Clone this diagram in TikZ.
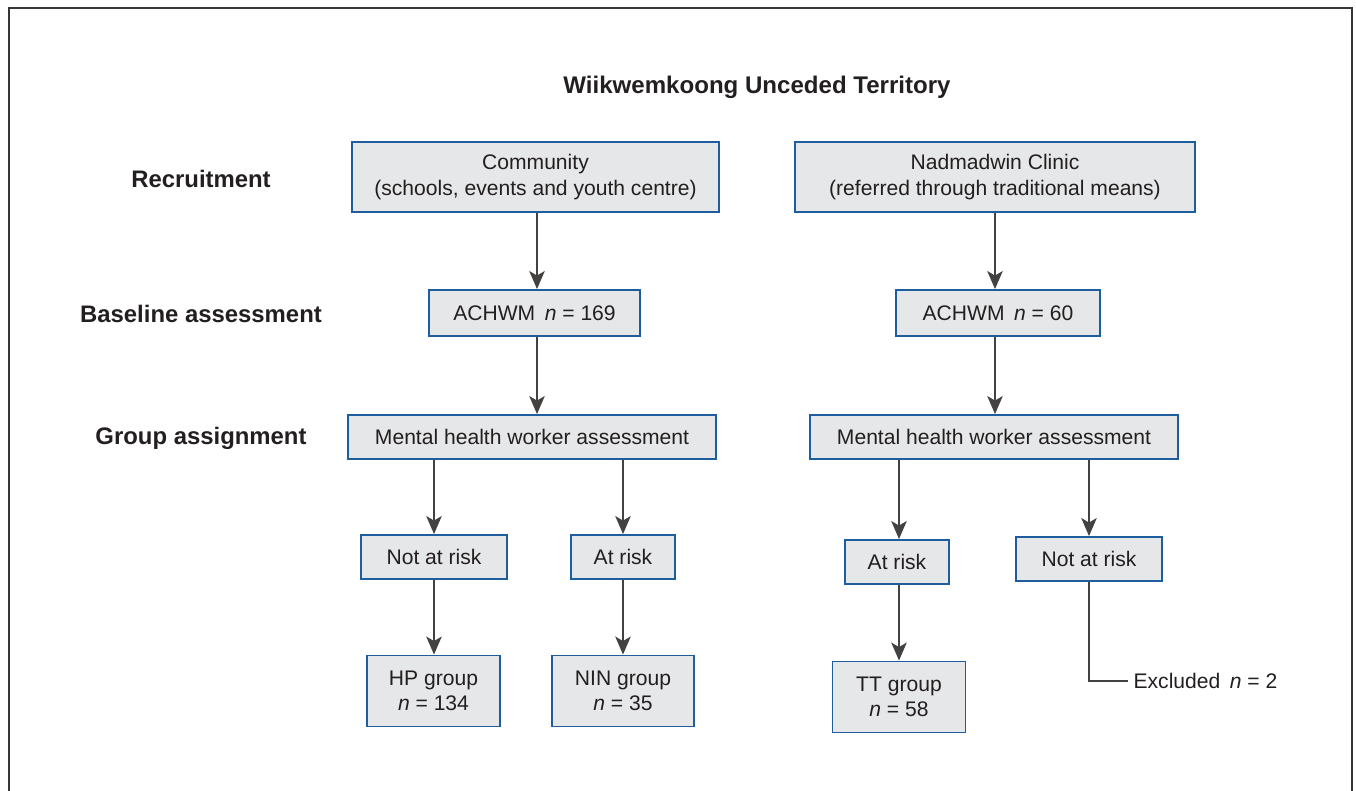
\documentclass[tikz,border=0pt]{standalone}
\usepackage{fontspec}
\setmainfont{Liberation Sans}
\usepackage{xcolor}
\usetikzlibrary{positioning,arrows.meta}

\definecolor{boxfill}{HTML}{E6E7E8}
\definecolor{boxline}{HTML}{1F5E9E}
\definecolor{inkgray}{HTML}{231F20}

\tikzset{
  box/.style={draw=boxline, fill=boxfill, line width=1.1pt, align=center,
    text=inkgray, font=\fontsize{12}{14.5}\selectfont, inner sep=2pt},
  rowlabel/.style={text=inkgray, font=\bfseries\fontsize{13.6}{16}\selectfont},
  flow/.style={draw=inkgray!85, line width=0.8pt,
    -{Stealth[length=3.6mm,width=3.1mm,inset=0.9mm]}},
}
\newcommand{\nn}{\textit{n}}

\begin{document}
\begin{tikzpicture}[x=0.02cm,y=-0.02cm]
\useasboundingbox (0,0) rectangle (1356,791);
\draw[inkgray!90, line width=0.9pt] (9,800) -- (9,8) -- (1352,8) -- (1352,800);

% Title and row labels
\node[rowlabel, font=\bfseries\fontsize{13.7}{16}\selectfont] (title) at (757,87)
  {Wiikwemkoong Unceded Territory};
\node[rowlabel] (lrec) at (201,179) {Recruitment};
\node[rowlabel] (lbase) at (201,314) {Baseline assessment};
\node[rowlabel] (lgroup) at (201,438) {Group assignment};

% Community side
\node[box, minimum width=7.34cm, minimum height=1.4cm] (comm) at (535.5,177)
  {Community\\(schools, events and youth centre)};
\node[box, minimum width=4.22cm, minimum height=0.92cm] (ach1) at (534.5,313)
  {ACHWM\hspace{0.45em}\nn{} = 169};
\node[box, minimum width=7.36cm, minimum height=0.88cm] (mhw1) at (532,437)
  {Mental health worker assessment};
\node[box, minimum width=2.92cm, minimum height=0.88cm] (nar1) at (434,557) {Not at risk};
\node[box, minimum width=2.08cm, minimum height=0.88cm] (ar1) at (623,557) {At risk};
\node[box, minimum width=2.66cm, minimum height=1.42cm] (hp) at (433.5,691)
  {HP group\\\nn{} = 134};
\node[box, minimum width=2.84cm, minimum height=1.42cm] (nin) at (623,691)
  {NIN group\\\nn{} = 35};

% Clinic side
\node[box, minimum width=8.0cm, minimum height=1.4cm] (clin) at (995,177)
  {Nadmadwin Clinic\\(referred through traditional means)};
\node[box, minimum width=4.08cm, minimum height=0.92cm] (ach2) at (998,313)
  {ACHWM\hspace{0.45em}\nn{} = 60};
\node[box, minimum width=7.36cm, minimum height=0.88cm] (mhw2) at (994,437)
  {Mental health worker assessment};
\node[box, minimum width=2.08cm, minimum height=0.88cm] (ar2) at (897,562) {At risk};
\node[box, minimum width=2.92cm, minimum height=0.88cm] (nar2) at (1089,559) {Not at risk};
\node[box, minimum width=2.66cm, minimum height=1.42cm] (tt) at (899,697)
  {TT group\\\nn{} = 58};
\node[anchor=west, text=inkgray, font=\fontsize{12}{14.5}\selectfont, inner sep=3pt]
  (excl) at (1128,681) {Excluded\hspace{0.45em}\nn{} = 2};

% Arrows
\draw[flow] (comm.south -| 537,0) -- (ach1.north -| 537,0);
\draw[flow] (ach1.south -| 537,0) -- (mhw1.north -| 537,0);
\draw[flow] (mhw1.south -| nar1) -- (nar1.north);
\draw[flow] (mhw1.south -| ar1) -- (ar1.north);
\draw[flow] (nar1.south) -- (hp.north -| nar1);
\draw[flow] (ar1.south) -- (nin.north -| ar1);

\draw[flow] (clin.south -| 995,0) -- (ach2.north -| 995,0);
\draw[flow] (ach2.south -| 995,0) -- (mhw2.north -| 995,0);
\draw[flow] (mhw2.south -| tt) -- (ar2.north -| tt);
\draw[flow] (mhw2.south -| nar2) -- (nar2.north);
\draw[flow] (ar2.south -| tt) -- (tt.north);
\draw[draw=inkgray!85, line width=0.8pt] (nar2.south) |- (excl.west);
\end{tikzpicture}
\end{document}
